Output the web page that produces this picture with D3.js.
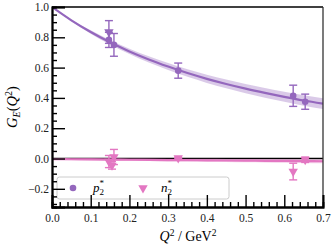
<!DOCTYPE html>
<html><head><meta charset="utf-8">
<script src="https://cdn.jsdelivr.net/npm/d3@7"></script>
<style>
html,body{margin:0;padding:0;background:#fff;}
svg{display:block;}
svg text{font-family:"Liberation Serif","DejaVu Serif",serif !important;}
</style></head>
<body><svg id="c" width="335" height="251"></svg>
<script>
// ---- data ----
const fitQ2   = [0, 0.05, 0.1, 0.15, 0.2, 0.25, 0.3, 0.35, 0.4, 0.45, 0.5, 0.55, 0.6, 0.65, 0.7];
const pFit    = [1.0, 0.912, 0.835, 0.767, 0.707, 0.654, 0.607, 0.564, 0.526, 0.492, 0.461, 0.433, 0.407, 0.383, 0.362];
const pFitErr = [0.0, 0.006, 0.011, 0.015, 0.018, 0.021, 0.023, 0.025, 0.027, 0.029, 0.030, 0.032, 0.033, 0.034, 0.035];
const nFit    = [-0.004, -0.005, -0.006, -0.007, -0.008, -0.009, -0.010, -0.011, -0.012, -0.013, -0.014, -0.015, -0.016, -0.017, -0.018];
const nFitErr = [0.006, 0.006, 0.007, 0.007, 0.008, 0.008, 0.009, 0.009, 0.010, 0.010, 0.011, 0.011, 0.012, 0.012, 0.013];

const pQ2  = [0.147, 0.160, 0.326, 0.623, 0.654];
const pVal = [0.783, 0.750, 0.580, 0.414, 0.375];
const pErr = [0.050, 0.075, 0.050, 0.070, 0.050];
const pTriQ2  = [0.147];
const pTriVal = [0.835];
const pTriErr = [0.075];

const nQ2  = [0.147, 0.155, 0.160, 0.326, 0.623, 0.654];
const nVal = [-0.020, -0.045, 0.010, 0.003, -0.086, -0.008];
const nErr = [0.040, 0.025, 0.050, 0.004, 0.055, 0.018];

const xTicks = [0.0, 0.1, 0.2, 0.3, 0.4, 0.5, 0.6, 0.7];
const yTicks = [-0.2, 0.0, 0.2, 0.4, 0.6, 0.8, 1.0];

const purple = "#9467bd", pink = "#e377c2";

// ---- layout ----
const svg = d3.select("#c");
const L = 52, R = 323, T = 7, B = 207;
const x = d3.scaleLinear().domain([0, 0.7]).range([L, R]);
const y = d3.scaleLinear().domain([-0.32, 1.0]).range([B, T]);

const g = svg.append("g");
svg.append("clipPath").attr("id","clp").append("rect")
  .attr("x",L).attr("y",T).attr("width",R-L).attr("height",B-T);
const plot = g.append("g").attr("clip-path","url(#clp)");

plot.append("line").attr("x1",L).attr("x2",R).attr("y1",y(0)).attr("y2",y(0))
  .attr("stroke","#000").attr("stroke-width",1.6);

function band(vals, errs, color){
  const area = d3.area().x((d,i)=>x(fitQ2[i])).y0((d,i)=>y(vals[i]-errs[i])).y1((d,i)=>y(vals[i]+errs[i])).curve(d3.curveMonotoneX);
  plot.append("path").attr("d", area(vals)).attr("fill",color).attr("opacity",0.35);
  const line = d3.line().x((d,i)=>x(fitQ2[i])).y(d=>y(d)).curve(d3.curveMonotoneX);
  plot.append("path").attr("d", line(vals)).attr("fill","none").attr("stroke",color).attr("stroke-width",2.2);
}
band(pFit, pFitErr, purple);
band(nFit, nFitErr, pink);

function errbars(qs, vs, es, color){
  qs.forEach((q,i)=>{
    const cx = x(q), y1 = y(vs[i]+es[i]), y2 = y(vs[i]-es[i]);
    const gg = plot.append("g").attr("stroke",color).attr("stroke-width",1.4);
    gg.append("line").attr("x1",cx).attr("x2",cx).attr("y1",y1).attr("y2",y2);
    gg.append("line").attr("x1",cx-4).attr("x2",cx+4).attr("y1",y1).attr("y2",y1);
    gg.append("line").attr("x1",cx-4).attr("x2",cx+4).attr("y1",y2).attr("y2",y2);
  });
}
const tri = d3.symbol().type(d3.symbolTriangle).size(38);
function triangles(sel, qs, vs, color){
  qs.forEach((q,i)=>{
    sel.append("path").attr("d",tri()).attr("fill",color)
      .attr("transform",`translate(${x(q)},${y(vs[i])}) rotate(180)`);
  });
}
errbars(pTriQ2, pTriVal, pTriErr, purple);
triangles(plot, pTriQ2, pTriVal, purple);
errbars(pQ2, pVal, pErr, purple);
pQ2.forEach((q,i)=>plot.append("circle").attr("cx",x(q)).attr("cy",y(pVal[i])).attr("r",3.3).attr("fill",purple));
errbars(nQ2, nVal, nErr, pink);
triangles(plot, nQ2, nVal, pink);

// legend
const lg = g.append("g");
lg.append("rect").attr("x",57).attr("y",177).attr("width",172).attr("height",22).attr("rx",2.5)
  .attr("fill","#fff").attr("fill-opacity",0.8).attr("stroke","#ccc").attr("stroke-width",1);
lg.append("circle").attr("cx",73).attr("cy",188).attr("r",3.3).attr("fill",purple);
function legText(xp, letter){
  const t = lg.append("text").attr("x",xp).attr("y",192).attr("font-size",13);
  t.append("tspan").attr("font-style","italic").text(letter);
  t.append("tspan").attr("font-size",9).attr("dy",3).text("2");
  t.append("tspan").attr("font-size",9).attr("dy",-9).attr("dx",-4.5).text("*");
}
legText(93, "p");
lg.append("path").attr("d",tri()).attr("fill",pink).attr("transform","translate(143,188) rotate(180)");
legText(161, "n");

// frame
g.append("line").attr("x1",L).attr("x2",R).attr("y1",T).attr("y2",T).attr("stroke","#000").attr("stroke-width",1.6);
g.append("line").attr("x1",R).attr("x2",R).attr("y1",T).attr("y2",B).attr("stroke","#333").attr("stroke-width",1.3);

// axes with inward ticks
const yMinor = d3.range(-0.30, 1.0001, 0.05).map(v=>+v.toFixed(2)).filter(v=>!yTicks.some(t=>Math.abs(t-v)<1e-6));
const xMinor = d3.range(0, 0.7001, 0.02).map(v=>+v.toFixed(2)).filter(v=>!xTicks.some(t=>Math.abs(t-v)<1e-6));
const fmt = d => d3.format(".1f")(d).replace("-", "\u2212");

const ya = g.append("g").attr("transform",`translate(${L},0)`)
  .call(d3.axisLeft(y).tickValues(yTicks).tickSize(-13).tickPadding(17).tickFormat(fmt));
const yam = g.append("g").attr("transform",`translate(${L},0)`)
  .call(d3.axisLeft(y).tickValues(yMinor).tickSize(-5).tickFormat(""));
const xa = g.append("g").attr("transform",`translate(0,${B})`)
  .call(d3.axisBottom(x).tickValues(xTicks).tickSize(-12).tickPadding(17).tickFormat(fmt));
const xam = g.append("g").attr("transform",`translate(0,${B})`)
  .call(d3.axisBottom(x).tickValues(xMinor).tickSize(-5).tickFormat(""));
[ya,yam,xa,xam].forEach(a=>{
  a.attr("font-family",null);
  a.select(".domain").attr("stroke","#000").attr("stroke-width",1.8);
  a.selectAll(".tick line").attr("stroke","#000").attr("stroke-width",1.4);
  a.selectAll("text").attr("font-size",11.5).attr("fill","#222");
});
ya.selectAll("text").attr("dx",14);
xa.selectAll("text").attr("dy",-2);

// axis titles
const xl = svg.append("text").attr("x",188).attr("y",241).attr("text-anchor","middle").attr("font-size",14);
xl.append("tspan").attr("font-style","italic").text("Q");
xl.append("tspan").attr("font-size",9.5).attr("dy",-5).text("2");
xl.append("tspan").attr("dy",5).text(" / GeV");
xl.append("tspan").attr("font-size",9.5).attr("dy",-5).text("2");

const yl = svg.append("text").attr("transform","translate(17,107) rotate(-90)").attr("text-anchor","middle").attr("font-size",14.5);
yl.append("tspan").attr("font-style","italic").text("G");
yl.append("tspan").attr("font-style","italic").attr("font-size",10).attr("dy",3).text("E");
yl.append("tspan").attr("dy",-3).text("(");
yl.append("tspan").attr("font-style","italic").text("Q");
yl.append("tspan").attr("font-size",10).attr("dy",-5).text("2");
yl.append("tspan").attr("dy",5).text(")");
</script></body></html>
